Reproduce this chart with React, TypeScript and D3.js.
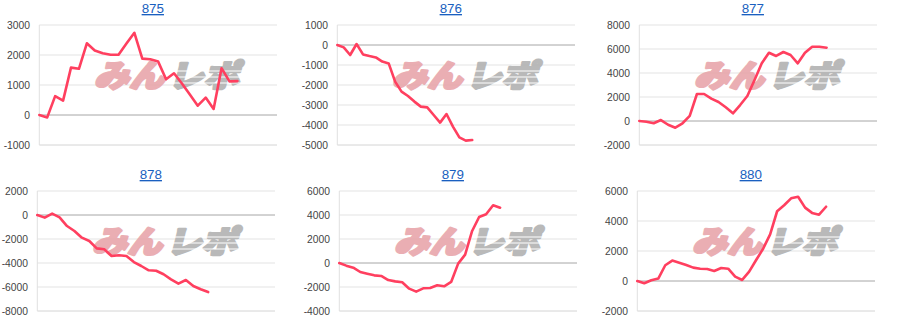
import React from "react";
import * as d3 from "d3";

const titles = ["875", "876", "877", "878", "879", "880"];
const s875 = [0, -80, 630, 480, 1580, 1540, 2390, 2150, 2060, 2010, 2010, 2380, 2740, 1880, 1860, 1780, 1190, 1390, 1050, 680, 310, 580, 200, 1560, 1120, 1130];
const s876 = [0, -120, -500, 50, -470, -550, -620, -830, -920, -1830, -2330, -2550, -2830, -3080, -3120, -3500, -3880, -3450, -4080, -4620, -4780, -4750];
const s877 = [0, -60, -190, 80, -310, -560, -190, 420, 2250, 2250, 1860, 1580, 1140, 640, 1330, 2080, 3420, 4810, 5690, 5420, 5750, 5500, 4810, 5690, 6190, 6190, 6110];
const s878 = [0, -220, 110, -200, -920, -1330, -1890, -2170, -2780, -2860, -3420, -3360, -3420, -3920, -4250, -4610, -4650, -4940, -5360, -5720, -5420, -5920, -6190, -6420];
const s879 = [0, -220, -390, -750, -890, -1030, -1080, -1420, -1530, -1610, -2140, -2390, -2110, -2080, -1860, -1940, -1580, -50, 700, 2670, 3830, 4060, 4810, 4610];
const s880 = [0, -150, 50, 160, 1050, 1360, 1220, 1070, 890, 820, 800, 670, 870, 820, 290, 70, 620, 1400, 2150, 3110, 4650, 5050, 5510, 5620, 4890, 4540, 4420, 4950];
const seriesList = [s875, s876, s877, s878, s879, s880];

const ticks875 = [3000, 2000, 1000, 0, -1000];
const ticks876 = [1000, 0, -1000, -2000, -3000, -4000, -5000];
const ticks877 = [8000, 6000, 4000, 2000, 0, -2000];
const ticks878 = [2000, 0, -2000, -4000, -6000, -8000];
const ticks879 = [6000, 4000, 2000, 0, -2000, -4000];
const ticks880 = [6000, 4000, 2000, 0, -2000];
const tickList = [ticks875, ticks876, ticks877, ticks878, ticks879, ticks880];

// number of x slots spanned by each hidden x axis
const xSlots = [30, 37, 33, 32, 34, 34];

// layout
const W = 900;
const H = 332;
const PLOT_W = 237.7;
const PLOT_H = 120;
const plotLefts = [39.3, 337.3, 639.3, 37.3, 339.3, 637.3];
const plotTops = [25, 25, 25, 191, 191, 191];

const FONT = "Arial, 'Liberation Sans', sans-serif";
const CJK = "'Noto Sans CJK JP', sans-serif";

function Panel({ i }: { i: number }) {
  const left = plotLefts[i];
  const top = plotTops[i];
  const ticks = tickList[i];
  const data = seriesList[i];
  const y = d3
    .scaleLinear()
    .domain([d3.min(ticks) as number, d3.max(ticks) as number])
    .range([top + PLOT_H, top]);
  const x = d3.scaleLinear().domain([0, xSlots[i]]).range([left, left + PLOT_W]);
  const line = d3
    .line<number>()
    .x((_, k) => x(k))
    .y((d) => y(d));
  const wmX = left + 55;
  const wmY = top + 38;
  const base = wmY + 24;
  const skew = `skewX(-14) translate(${base * Math.tan((14 * Math.PI) / 180)},0)`;
  return (
    <g>
      <text
        x={left + 113.5}
        y={top - 12}
        textAnchor="middle"
        fontFamily={FONT}
        fontSize={13.4}
        fill="#1a5fc0"
        textDecoration="underline"
      >
        {titles[i]}
      </text>
      {ticks.map((t) => (
        <line
          key={"g" + t}
          x1={left}
          x2={left + PLOT_W}
          y1={y(t)}
          y2={y(t)}
          stroke={t === 0 ? "#a6a6a6" : t === d3.min(ticks) ? "#d4d4d4" : "#e3e3e3"}
          strokeWidth={1}
        />
      ))}
      <line x1={left} x2={left} y1={top} y2={top + PLOT_H} stroke="#e0e0e0" strokeWidth={1} />
      {ticks.map((t) => (
        <text
          key={"t" + t}
          x={left - 9.3}
          y={y(t) + 3.6}
          textAnchor="end"
          fontFamily={FONT}
          fontSize={10.3}
          fill="#444"
        >
          {t}
        </text>
      ))}
      <g opacity={0.9}>
        <text
          x={wmX}
          y={base}
          fontFamily={CJK}
          fontWeight={900}
          fontSize={31}
          fill="#e8a6ab"
          stroke="#e8a6ab"
          strokeWidth={2.6}
          strokeLinejoin="round"
          textLength={70}
          lengthAdjust="spacingAndGlyphs"
          transform={skew}
        >
          みん
        </text>
        <text
          x={wmX + 74}
          y={base}
          fontFamily={CJK}
          fontWeight={900}
          fontSize={31}
          fill="#b2b2b2"
          stroke="#b2b2b2"
          strokeWidth={2.6}
          strokeLinejoin="round"
          textLength={71}
          lengthAdjust="spacingAndGlyphs"
          transform={skew}
        >
          レポ
        </text>
        {[8, 14, 20].map((d) => (
          <line
            key={"s" + d}
            x1={wmX + 72}
            x2={wmX + 150}
            y1={wmY + d}
            y2={wmY + d}
            stroke="#fff"
            strokeWidth={1.2}
          />
        ))}
      </g>
      <path
        d={line(data) || ""}
        fill="none"
        stroke="#ff3f5f"
        strokeWidth={2.6}
        strokeLinejoin="round"
        strokeLinecap="round"
      />
    </g>
  );
}

export default function App() {
  return (
    <svg
      width={W}
      height={H}
      viewBox={`0 0 ${W} ${H}`}
      style={{ position: "absolute", left: 0, top: 0, background: "#fff" }}
    >
      <rect x={0} y={0} width={W} height={H} fill="#fff" />
      {titles.map((_, i) => (
        <Panel key={i} i={i} />
      ))}
    </svg>
  );
}
